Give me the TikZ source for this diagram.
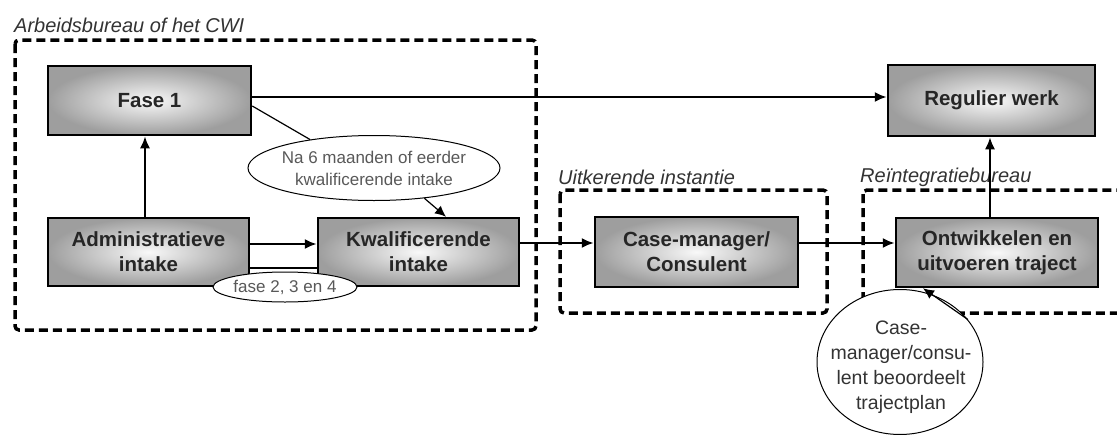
\documentclass[tikz,border=0pt]{standalone}
\usepackage{fontspec}
\setmainfont{Liberation Sans}
\usetikzlibrary{arrows.meta,shapes.geometric,calc}
\begin{document}
\begin{tikzpicture}[x=1pt,y=-1pt,
  stepbox/.style={draw=black, line width=2.5pt, shade, shading=radial,
    inner color=white!95!gray, outer color=black!38,
    minimum width=202pt, minimum height=69pt, align=center, inner sep=0pt,
    font=\fontsize{20.5}{25}\selectfont\bfseries, text=black!85},
  group/.style={draw=black, line width=3.5pt, dash pattern=on 9pt off 5pt, rounded corners=4pt},
  grouplabel/.style={anchor=west, inner sep=0pt, font=\fontsize{20}{24}\selectfont\itshape, text=black!80},
  conn/.style={line width=2pt, -{Latex[length=12pt,width=10pt]}},
  pointer/.style={line width=1.2pt},
  bubble/.style={ellipse, draw=black, line width=1pt, fill=white, inner sep=0pt},
  bubbletext/.style={align=center, inner sep=0pt, font=\fontsize{17}{22}\selectfont, text=black!65}
]
\clip (0,0) rectangle (1117,434);
\fill[white] (0,0) rectangle (1117,434);

% groups
\draw[group] (15,40) rectangle (536,330);
\draw[group] (560,190) rectangle (827,313);
\draw[group] (863,190) rectangle (1135,313);
\node[grouplabel] (lcwi) at (14,25) {Arbeidsbureau of het CWI};
\node[grouplabel] (luit) at (558,177) {Uitkerende instantie};
\node[grouplabel] (lrei) at (860,177) {Reïntegratiebureau};

% boxes
\node[stepbox, minimum width=203pt] (fase1) at (149.5,100.5) {Fase 1};
\node[stepbox, minimum width=201pt, minimum height=68pt] (admin) at (148.5,252) {Administratieve\\intake};
\node[stepbox, minimum width=201pt, minimum height=68pt] (kwal) at (418.5,252) {Kwalificerende\\intake};
\node[stepbox, minimum width=203pt, minimum height=70pt] (case) at (696.5,252) {Case-manager/\\Consulent};
\node[stepbox] (ontw) at (997,252.5) {Ontwikkelen en\\uitvoeren traject};
\node[stepbox, minimum width=207pt, minimum height=71pt] (regulier) at (991.5,100.5) {Regulier werk};

% bubbles
\node[bubble, minimum width=252pt, minimum height=65pt] (na6) at (374,168) {};
\node[bubbletext] (na6t) at (na6) {Na 6 maanden of eerder\\kwalificerende intake};
\node[bubble, minimum width=144pt, minimum height=30pt] (fasen) at (285,287) {};
\node[bubbletext] (fasent) at (fasen) {fase 2, 3 en 4};
\node[bubble, minimum width=166pt, minimum height=145pt] (circ) at (900,362) {};
\node[bubbletext, font=\fontsize{19.5}{25}\selectfont, text=black!80] (circt) at (901,367) {Case-\\manager/consu-\\lent beoordeelt\\trajectplan};

% connectors
\draw[conn] ([yshift=3.5pt]fase1.east) -- ([yshift=3.5pt]regulier.west);
\draw[conn] ([xshift=-3.5pt]admin.north) -- ([xshift=-3.5pt]admin.north |- fase1.south);
\draw[conn] ([yshift=8pt]admin.east) -- ([yshift=8pt]kwal.west);
\draw[line width=2pt] ([yshift=-16pt]admin.east) -- ([yshift=-16pt]kwal.west);
\draw[conn] ([yshift=9pt]kwal.east) -- ([yshift=9pt]case.west);
\draw[conn] ([yshift=9pt]case.east) -- ([yshift=9.5pt]ontw.west);
\draw[conn] ([xshift=-7pt]ontw.north) -- ([xshift=-7pt]ontw.north |- regulier.south);
\draw[pointer] ([yshift=-5.5pt]fase1.east) -- (na6.156);
\draw[pointer, -{Latex[length=11pt,width=10pt]}] (na6.329) -- ([xshift=27.5pt]kwal.north);
\draw[pointer, -{Latex[length=11pt,width=10pt]}] (circ.32) -- ([xshift=-74pt]ontw.south);
\end{tikzpicture}
\end{document}
